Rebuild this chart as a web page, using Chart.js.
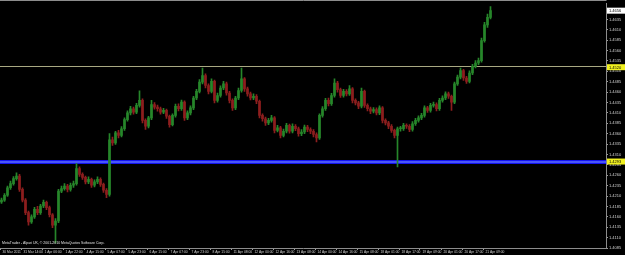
<!DOCTYPE html>
<html lang="en">
<head>
<meta charset="utf-8">
<title>EURUSD H1</title>
<script src="https://cdn.jsdelivr.net/npm/chart.js"></script>
<style>
  html, body { margin: 0; padding: 0; background: #000; }
  canvas { display: block; }
</style>
</head>
<body>
<canvas id="mt" width="625" height="255"></canvas>
<script>
// H1 candles
const opens = [
  1.4196,1.4200,1.4212,1.4230,1.4240,1.4252,1.4258,1.4226,1.4200,1.4170,
  1.4148,1.4160,1.4178,1.4170,1.4186,1.4195,1.4182,1.4165,1.4140,1.4150,
  1.4222,1.4228,1.4234,1.4226,1.4236,1.4240,1.4276,1.4262,1.4255,1.4244,
  1.4250,1.4236,1.4244,1.4250,1.4238,1.4224,1.4214,1.4345,1.4338,1.4362,
  1.4356,1.4372,1.4394,1.4410,1.4420,1.4412,1.4428,1.4440,1.4392,1.4378,
  1.4398,1.4430,1.4424,1.4420,1.4412,1.4416,1.4402,1.4382,1.4404,1.4426,
  1.4420,1.4436,1.4398,1.4410,1.4422,1.4446,1.4462,1.4484,1.4500,1.4476,
  1.4462,1.4486,1.4440,1.4452,1.4470,1.4480,1.4458,1.4440,1.4422,1.4446,
  1.4464,1.4492,1.4468,1.4456,1.4446,1.4450,1.4438,1.4404,1.4396,1.4386,
  1.4392,1.4398,1.4368,1.4374,1.4356,1.4366,1.4380,1.4366,1.4378,1.4372,
  1.4360,1.4364,1.4376,1.4370,1.4366,1.4358,1.4350,1.4404,1.4420,1.4440,
  1.4432,1.4452,1.4482,1.4466,1.4452,1.4462,1.4456,1.4468,1.4440,1.4434,
  1.4426,1.4462,1.4428,1.4420,1.4414,1.4418,1.4410,1.4422,1.4392,1.4386,
  1.4378,1.4368,1.4356,1.4372,1.4372,1.4380,1.4378,1.4370,1.4384,1.4392,
  1.4398,1.4404,1.4422,1.4416,1.4428,1.4430,1.4420,1.4440,1.4446,1.4456,
  1.4450,1.4436,1.4480,1.4496,1.4512,1.4494,1.4486,1.4506,1.4522,1.4530,
  1.4536,1.4584,1.4622,1.4640
];
const highs = [
  1.4205,1.4216,1.4234,1.4246,1.4257,1.4266,1.4262,1.4230,1.4204,1.4174,
  1.4165,1.4183,1.4185,1.4190,1.4200,1.4198,1.4186,1.4168,1.4156,1.4226,
  1.4234,1.4240,1.4238,1.4241,1.4246,1.4288,1.4280,1.4266,1.4258,1.4256,
  1.4253,1.4249,1.4256,1.4254,1.4241,1.4228,1.4360,1.4352,1.4366,1.4368,
  1.4377,1.4398,1.4415,1.4426,1.4424,1.4433,1.4463,1.4444,1.4396,1.4402,
  1.4440,1.4435,1.4429,1.4424,1.4421,1.4419,1.4405,1.4408,1.4431,1.4432,
  1.4441,1.4439,1.4415,1.4427,1.4450,1.4467,1.4490,1.4518,1.4504,1.4480,
  1.4492,1.4489,1.4458,1.4475,1.4486,1.4484,1.4462,1.4444,1.4450,1.4470,
  1.4518,1.4495,1.4472,1.4460,1.4456,1.4454,1.4441,1.4408,1.4400,1.4397,
  1.4404,1.4401,1.4380,1.4378,1.4371,1.4385,1.4383,1.4384,1.4382,1.4376,
  1.4370,1.4381,1.4380,1.4374,1.4370,1.4362,1.4408,1.4425,1.4445,1.4446,
  1.4457,1.4492,1.4486,1.4470,1.4467,1.4466,1.4476,1.4471,1.4444,1.4438,
  1.4470,1.4465,1.4432,1.4424,1.4423,1.4422,1.4427,1.4425,1.4396,1.4390,
  1.4382,1.4371,1.4376,1.4378,1.4385,1.4384,1.4382,1.4389,1.4397,1.4403,
  1.4409,1.4427,1.4426,1.4433,1.4436,1.4434,1.4445,1.4451,1.4461,1.4460,
  1.4453,1.4484,1.4501,1.4518,1.4515,1.4498,1.4511,1.4527,1.4536,1.4542,
  1.4590,1.4628,1.4648,1.4666
];
const lows = [
  1.4192,1.4197,1.4209,1.4226,1.4236,1.4248,1.4221,1.4196,1.4165,1.4140,
  1.4144,1.4156,1.4165,1.4166,1.4182,1.4177,1.4160,1.4134,1.4097,1.4146,
  1.4218,1.4224,1.4220,1.4222,1.4231,1.4236,1.4257,1.4250,1.4239,1.4240,
  1.4231,1.4232,1.4240,1.4233,1.4219,1.4206,1.4210,1.4332,1.4334,1.4350,
  1.4352,1.4368,1.4390,1.4405,1.4407,1.4408,1.4424,1.4386,1.4370,1.4374,
  1.4394,1.4419,1.4414,1.4407,1.4408,1.4397,1.4376,1.4379,1.4400,1.4415,
  1.4416,1.4392,1.4394,1.4405,1.4418,1.4442,1.4458,1.4480,1.4470,1.4456,
  1.4458,1.4434,1.4436,1.4448,1.4466,1.4453,1.4434,1.4416,1.4418,1.4442,
  1.4460,1.4462,1.4450,1.4441,1.4442,1.4432,1.4398,1.4390,1.4380,1.4382,
  1.4388,1.4362,1.4364,1.4350,1.4352,1.4362,1.4361,1.4362,1.4367,1.4354,
  1.4355,1.4360,1.4365,1.4360,1.4352,1.4340,1.4346,1.4400,1.4416,1.4427,
  1.4428,1.4448,1.4460,1.4447,1.4448,1.4451,1.4452,1.4434,1.4429,1.4420,
  1.4422,1.4423,1.4415,1.4408,1.4410,1.4405,1.4406,1.4386,1.4381,1.4372,
  1.4363,1.4350,1.4280,1.4366,1.4368,1.4373,1.4365,1.4366,1.4380,1.4388,
  1.4394,1.4400,1.4411,1.4412,1.4424,1.4415,1.4416,1.4436,1.4442,1.4445,
  1.4416,1.4432,1.4476,1.4492,1.4488,1.4481,1.4482,1.4502,1.4518,1.4526,
  1.4532,1.4580,1.4616,1.4636
];
const closes = [
  1.4200,1.4212,1.4230,1.4240,1.4252,1.4258,1.4226,1.4200,1.4170,1.4148,
  1.4160,1.4178,1.4170,1.4186,1.4195,1.4182,1.4165,1.4140,1.4150,1.4222,
  1.4228,1.4234,1.4226,1.4236,1.4240,1.4276,1.4262,1.4255,1.4244,1.4250,
  1.4236,1.4244,1.4250,1.4238,1.4224,1.4214,1.4345,1.4338,1.4362,1.4356,
  1.4372,1.4394,1.4410,1.4420,1.4412,1.4428,1.4440,1.4392,1.4378,1.4398,
  1.4430,1.4424,1.4420,1.4412,1.4416,1.4402,1.4382,1.4404,1.4426,1.4420,
  1.4436,1.4398,1.4410,1.4422,1.4446,1.4462,1.4484,1.4500,1.4476,1.4462,
  1.4486,1.4440,1.4452,1.4470,1.4480,1.4458,1.4440,1.4422,1.4446,1.4464,
  1.4492,1.4468,1.4456,1.4446,1.4450,1.4438,1.4404,1.4396,1.4386,1.4392,
  1.4398,1.4368,1.4374,1.4356,1.4366,1.4380,1.4366,1.4378,1.4372,1.4360,
  1.4364,1.4376,1.4370,1.4366,1.4358,1.4350,1.4404,1.4420,1.4440,1.4432,
  1.4452,1.4482,1.4466,1.4452,1.4462,1.4456,1.4468,1.4440,1.4434,1.4426,
  1.4462,1.4428,1.4420,1.4414,1.4418,1.4410,1.4422,1.4392,1.4386,1.4378,
  1.4368,1.4356,1.4372,1.4372,1.4380,1.4378,1.4370,1.4384,1.4392,1.4398,
  1.4404,1.4422,1.4416,1.4428,1.4430,1.4420,1.4440,1.4446,1.4456,1.4450,
  1.4436,1.4480,1.4496,1.4512,1.4494,1.4486,1.4506,1.4522,1.4530,1.4536,
  1.4584,1.4622,1.4640,1.4656
];

const xTickLabels = [
  '30 Mar 2011','31 Mar 14:00','1 Apr 06:00','1 Apr 22:00','4 Apr 15:00','5 Apr 07:00',
  '5 Apr 23:00','6 Apr 15:00','7 Apr 07:00','7 Apr 23:00','8 Apr 15:00','11 Apr 08:00',
  '12 Apr 00:00','12 Apr 16:00','13 Apr 08:00','14 Apr 00:00','14 Apr 16:00','15 Apr 08:00',
  '18 Apr 01:00','18 Apr 17:00','19 Apr 09:00','20 Apr 01:00','20 Apr 17:00','21 Apr 09:00'
];
const barsPerLabel = 7;
const yTicks = [
  1.4085,1.4110,1.4135,1.4160,1.4185,1.4210,1.4235,1.4260,1.4285,1.4310,1.4335,1.4360,
  1.4385,1.4410,1.4435,1.4460,1.4485,1.4510,1.4535,1.4560,1.4585,1.4610,1.4635
];
const yMin = 1.4085, yMax = 1.46735;
const totalSlots = 202;   // chart shifted to leave empty space on the right

// horizontal lines drawn on the chart
const levelYellow = 1.4520;
const levelBlue = 1.4293;

const UP = '#26862a', DOWN = '#8c1e1e';

let slots = [];
for (let i = 0; i < totalSlots; i++) slots.push(String(i));
let wicks = [], bodies = [], colors = [];
for (let i = 0; i < closes.length; i++) {
  wicks.push([lows[i], highs[i]]);
  bodies.push([opens[i], closes[i]]);
  colors.push(closes[i] >= opens[i] ? UP : DOWN);
}

function priceBox(ctx, area, y, text, fill) {
  ctx.fillStyle = fill;
  ctx.fillRect(area.right + 1, y - 3, 18, 6);
  ctx.fillStyle = '#000';
  ctx.font = '4px "Liberation Sans"';
  ctx.textAlign = 'left';
  ctx.textBaseline = 'middle';
  ctx.fillText(text, area.right + 3, y + 0.5);
}

const mtPlugin = {
  id: 'mt',
  beforeDatasetsDraw(chart) {
    const ctx = chart.ctx, a = chart.chartArea, ys = chart.scales.y;
    ctx.save();
    let y1 = Math.round(ys.getPixelForValue(levelYellow)) - 0.5;
    ctx.strokeStyle = '#a8a882';
    ctx.lineWidth = 1;
    ctx.beginPath(); ctx.moveTo(a.left, y1); ctx.lineTo(a.right, y1); ctx.stroke();
    let y2 = Math.round(ys.getPixelForValue(levelBlue));
    ctx.fillStyle = '#1414f0';
    ctx.fillRect(a.left, y2 - 2, a.right - a.left, 4);
    ctx.fillStyle = '#7f98ff';
    ctx.fillRect(a.left, y2 - 0.5, a.right - a.left, 1);
    ctx.restore();
  },
  afterDraw(chart) {
    const ctx = chart.ctx, a = chart.chartArea, ys = chart.scales.y;
    ctx.save();
    ctx.strokeStyle = '#8c8c8c';
    ctx.lineWidth = 1;
    ctx.beginPath();
    ctx.moveTo(0, 0.5); ctx.lineTo(a.right + 0.5, 0.5);
    ctx.stroke();
    ctx.fillStyle = '#e0e0e0';
    ctx.font = '3.5px "Liberation Sans"';
    ctx.textAlign = 'left';
    ctx.textBaseline = 'alphabetic';
    ctx.fillText('MetaTrader - Alpari UK, \u00a9 2001-2010 MetaQuotes Software Corp.', 2, a.bottom - 4);
    priceBox(ctx, a, ys.getPixelForValue(levelYellow), levelYellow.toFixed(4), '#f0f020');
    priceBox(ctx, a, ys.getPixelForValue(levelBlue), levelBlue.toFixed(4), '#f0f020');
    priceBox(ctx, a, ys.getPixelForValue(closes[closes.length - 1]), closes[closes.length - 1].toFixed(4), '#ffffff');
    ctx.restore();
  }
};

new Chart(document.getElementById('mt').getContext('2d'), {
  type: 'bar',
  data: {
    labels: slots,
    datasets: [
      { data: wicks, backgroundColor: colors, barThickness: 1, grouped: false, order: 2 },
      { data: bodies, backgroundColor: colors, barThickness: 2, minBarLength: 1, grouped: false, order: 1 }
    ]
  },
  options: {
    responsive: false,
    animation: false,
    events: [],
    layout: { padding: { top: 2, left: 0, right: 0, bottom: 0 } },
    plugins: { legend: { display: false }, tooltip: { enabled: false } },
    scales: {
      x: {
        offset: true,
        border: { display: true, color: '#8c8c8c' },
        grid: {
          display: true, drawOnChartArea: false, drawTicks: true, tickLength: 2,
          color: (c) => (c.index % barsPerLabel === 0 && c.index / barsPerLabel < xTickLabels.length) ? '#9c9c9c' : 'rgba(0,0,0,0)'
        },
        ticks: {
          autoSkip: false, maxRotation: 0, minRotation: 0, align: 'start', labelOffset: 1, padding: 0,
          color: '#d0d0d0', font: { size: 3.3, family: 'Liberation Sans' },
          callback: (v, i) => (i % barsPerLabel === 0 && i / barsPerLabel < xTickLabels.length) ? xTickLabels[i / barsPerLabel] : ''
        },
        afterFit(s) { s.height = 7; }
      },
      y: {
        position: 'right',
        min: yMin, max: yMax,
        border: { display: true, color: '#8c8c8c' },
        grid: { display: true, drawOnChartArea: false, drawTicks: true, tickLength: 2, color: '#9c9c9c' },
        ticks: {
          padding: 1, color: '#d0d0d0', font: { size: 4, family: 'Liberation Sans' },
          callback: (v) => Number(v).toFixed(4)
        },
        afterBuildTicks(s) { s.ticks = yTicks.map(v => ({ value: v })); },
        afterFit(s) { s.width = 19; }
      }
    }
  },
  plugins: [mtPlugin]
});
</script>
</body>
</html>
